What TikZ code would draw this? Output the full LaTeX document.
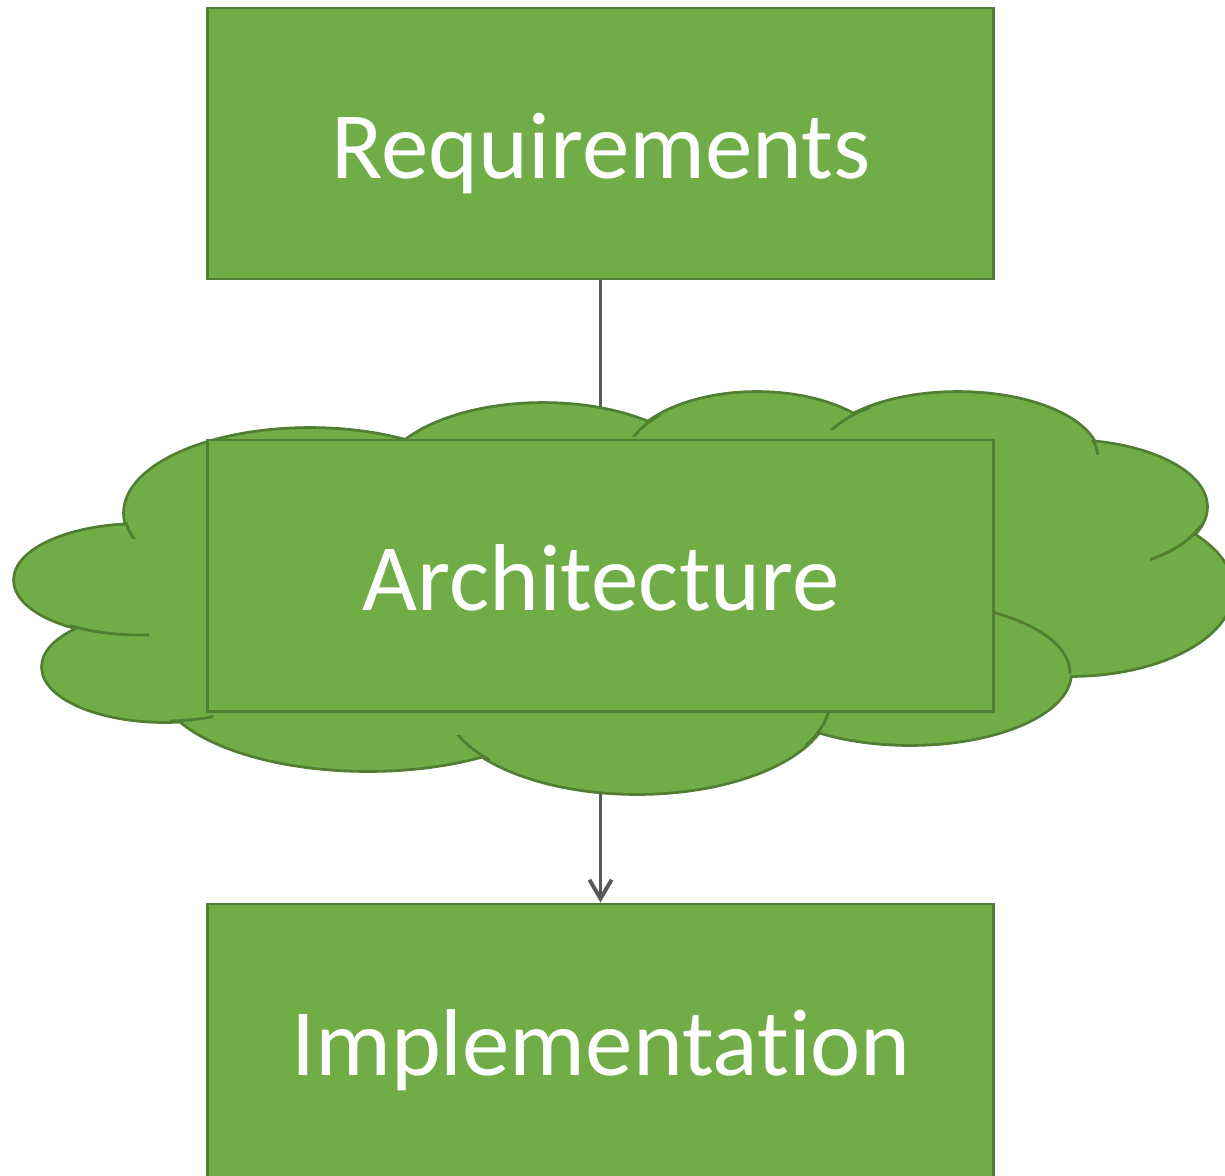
\documentclass[tikz,border=0pt]{standalone}
\usepackage{fontspec}
\setmainfont{Carlito}[Ligatures=NoCommon]
\usetikzlibrary{arrows.meta}
\definecolor{gfill}{HTML}{70AD47}
\definecolor{gline}{HTML}{507E32}
\definecolor{conncol}{HTML}{595959}
\pgfdeclarelayer{connlayer}
\pgfdeclarelayer{cloudlayer}
\pgfsetlayers{connlayer,cloudlayer,main}
\begin{document}
\begin{tikzpicture}[x=0.01cm,y=-0.01cm,
  box/.style={draw=gline, fill=gfill, line width=0.8pt, inner sep=0pt, minimum width=7.85cm},
  boxtext/.style={text=white, font=\fontsize{27}{32}\selectfont, anchor=base, inner sep=0pt},
  conn/.style={draw=conncol, line width=1.1pt, -{Straight Barb[length=5.4pt,width=6.3pt,line width=1.1pt]}},
  cloudedge/.style={draw=gline, line width=0.8pt},
  cloudouter/.style={draw=gline, line width=1.6pt}]
\clip (0,0) rectangle (1225,1175);
% boxes
\node (req) [box, minimum height=2.71cm] at (600.5,143.5) {};
\node (reqt) [boxtext] at (601,178) {Requirements};
\node (arch) [box, minimum height=2.71cm] at (600.5,575.5) {};
\node (archt) [boxtext] at (601,610) {Architecture};
\node (impl) [box, minimum height=2.91cm] at (600.5,1049.5) {};
\node (implt) [boxtext] at (601,1075) {Implementation};
% connectors
\begin{pgfonlayer}{connlayer}
\draw[conn] (req.south) -- (arch.north);
\draw[conn] (arch.south) -- (impl.north);
\end{pgfonlayer}
% cloud
\begin{pgfonlayer}{cloudlayer}
\foreach \cx/\cy/\rx/\ry in {310/513/185/84, 543/484/163/80, 757/463/133/70, 958/458/140/65,
  1065/507/141/66, 1070/590/162/85, 910/673/160/71, 637/700/193/93, 368/680/210/90,
  165/667/122/54, 140/580/125/55}
  {\draw[cloudouter] (\cx,\cy) ellipse [x radius=\rx, y radius=\ry];}
\foreach \cx/\cy/\rx/\ry in {310/513/185/84, 543/484/163/80, 757/463/133/70, 958/458/140/65,
  1065/507/141/66, 1070/590/162/85, 910/673/160/71, 637/700/193/93, 368/680/210/90,
  165/667/122/54, 140/580/125/55, 620/580/400/130}
  {\fill[gfill] (\cx,\cy) ellipse [x radius=\rx, y radius=\ry];}
% inner hooks
\foreach \ax/\ay/\bx/\by/\cx/\cy/\rx/\ry in {
  110/522/150/538/310/513/185/84,
  630/415/660/436/757/463/133/70,
  825/405/870/429/958/458/140/65,
  1085/440/1110/454/958/458/140/65,
  1150/525/1210/560/1065/507/141/66,
  70/620/149/640/140/580/125/55,
  170/705/213/725/165/667/122/54,
  455/735/490/760/637/700/193/93,
  805/711/835/745/637/700/193/93,
  990/600/1075/673/910/673/160/71}
  {\begin{scope}
     \clip (\ax,\ay) rectangle (\bx,\by);
     \draw[cloudedge] (\cx,\cy) ellipse [x radius=\rx, y radius=\ry];
   \end{scope}}
\end{pgfonlayer}
\end{tikzpicture}
\end{document}
